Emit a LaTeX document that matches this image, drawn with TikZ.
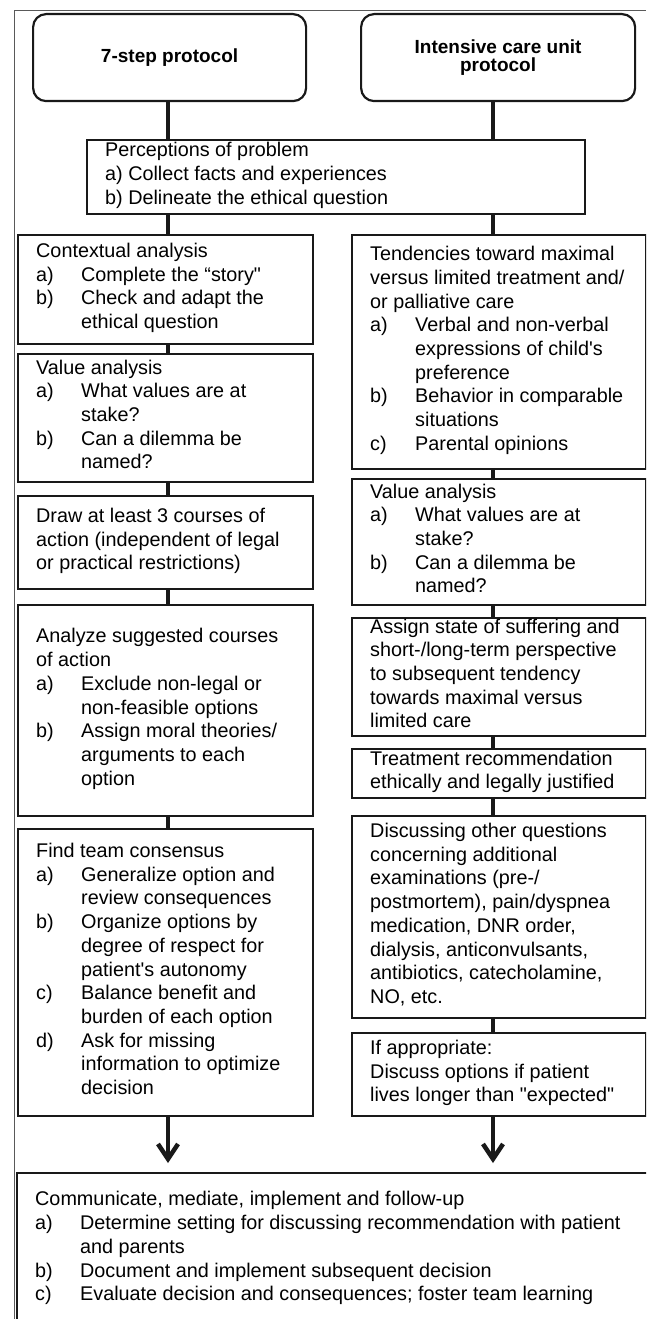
\documentclass[tikz,border=0pt]{standalone}
\usepackage{fontspec}
\setmainfont{Liberation Sans}
\usetikzlibrary{arrows.meta,calc}
\newcommand\ilab[1]{\makebox[45pt][l]{#1}}
\newcommand\hind{\hspace*{45pt}}
\newcommand\bodyfont{\fontsize{19.8}{23.7}\selectfont}
\newcommand\hdrfont{\fontsize{19}{17.5}\selectfont\bfseries}
\begin{document}
\begin{tikzpicture}[x=1pt,y=-1pt,
  box/.style={draw=black!90, line width=1.8pt, rectangle, inner sep=0pt, anchor=north west},
  hdr/.style={draw=black!90, line width=2.2pt, rounded corners=13pt, inner sep=0pt, anchor=north west, align=center, font=\hdrfont},
  txt/.style={anchor=west, align=left, inner sep=0pt, font=\bodyfont, execute at begin node=\strut, execute at end node=\strut},
  conn/.style={line width=4.5pt, draw=black!90},
  arr/.style={conn, -{Straight Barb[length=15pt,width=20pt]}, shorten >=9pt},
  frame/.style={line width=1pt, draw=black!65}]
\useasboundingbox (0,0) rectangle (646,1319);
\clip (0,0) rectangle (646,1319);
\draw[frame] (14,1319) -- (14,11) -- (646,11);
\coordinate (colL) at (168,0);
\coordinate (colR) at (493,0);
% headers
\node[hdr, minimum width=273pt, minimum height=87pt] (hdrA) at (32,13) {7-step protocol};
\node[hdr, minimum width=274pt, minimum height=87pt] (hdrB) at (360,13) {Intensive care unit\\protocol};
% perceptions
\node[box, minimum width=498pt, minimum height=74pt] (percept) at (86,139) {};
\node[txt] (perceptT) at ($(percept.west)+(19,0)$) {Perceptions of problem\\a) Collect facts and experiences\\b) Delineate the ethical question};
% left column
\node[box, minimum width=295pt, minimum height=109pt] (ctx) at (17,234) {};
\node[txt] (ctxT) at ($(ctx.west)+(19,0)$) {Contextual analysis\\\ilab{a)}Complete the “story\textquotedbl\\\ilab{b)}Check and adapt the\\\hind ethical question};
\node[box, minimum width=295pt, minimum height=128pt] (valL) at (17,353) {};
\node[txt] (valLT) at ($(valL.west)+(19,0)$) {Value analysis\\\ilab{a)}What values are at\\\hind stake?\\\ilab{b)}Can a dilemma be\\\hind named?};
\node[box, minimum width=295pt, minimum height=93pt] (drw) at (17,495) {};
\node[txt] (drwT) at ($(drw.west)+(19,0)$) {Draw at least 3 courses of\\action (independent of legal\\or practical restrictions)};
\node[box, minimum width=295pt, minimum height=211pt] (anal) at (17,604) {};
\node[txt] (analT) at ($(anal.west)+(19,0)$) {Analyze suggested courses\\of action\\\ilab{a)}Exclude non-legal or\\\hind non-feasible options\\\ilab{b)}Assign moral theories/\\\hind arguments to each\\\hind option};
\node[box, minimum width=295pt, minimum height=287pt] (find) at (17,828) {};
\node[txt] (findT) at ($(find.west)+(19,0)$) {Find team consensus\\\ilab{a)}Generalize option and\\\hind review consequences\\\ilab{b)}Organize options by\\\hind degree of respect for\\\hind patient\textquotesingle s autonomy\\\ilab{c)}Balance benefit and\\\hind burden of each option\\\ilab{d)}Ask for missing\\\hind information to optimize\\\hind decision};
% right column
\node[box, minimum width=294pt, minimum height=234pt] (tend) at (351,234) {};
\node[txt] (tendT) at ($(tend.west)+(19,0)$) {Tendencies toward maximal\\versus limited treatment and/\\or palliative care\\\ilab{a)}Verbal and non-verbal\\\hind expressions of child\textquotesingle s\\\hind preference\\\ilab{b)}Behavior in comparable\\\hind situations\\\ilab{c)}Parental opinions};
\node[box, minimum width=294pt, minimum height=126pt] (valR) at (351,478) {};
\node[txt] (valRT) at ($(valR.west)+(19,0)$) {Value analysis\\\ilab{a)}What values are at\\\hind stake?\\\ilab{b)}Can a dilemma be\\\hind named?};
\node[box, minimum width=294pt, minimum height=118pt] (assign) at (351,617) {};
\node[txt] (assignT) at ($(assign.west)+(19,0)$) {Assign state of suffering and\\short-/long-term perspective\\to subsequent tendency\\towards maximal versus\\limited care};
\node[box, minimum width=294pt, minimum height=49pt] (treat) at (351,748) {};
\node[txt] (treatT) at ($(treat.west)+(19,0)$) {Treatment recommendation\\ethically and legally justified};
\node[box, minimum width=294pt, minimum height=202pt] (disc) at (351,815) {};
\node[txt] (discT) at ($(disc.west)+(19,0)$) {Discussing other questions\\concerning additional\\examinations (pre-/\\postmortem), pain/dyspnea\\medication, DNR order,\\dialysis, anticonvulsants,\\antibiotics, catecholamine,\\NO, etc.};
\node[box, minimum width=294pt, minimum height=83pt] (ifap) at (351,1032) {};
\node[txt] (ifapT) at ($(ifap.west)+(19,0)$) {If appropriate:\\Discuss options if patient\\lives longer than \textquotedbl expected\textquotedbl};
% bottom
\node[box, minimum width=650pt, minimum height=170pt] (bottom) at (16,1172) {};
\node[txt, anchor=north west] (bottomT) at ($(bottom.north west)+(19,19.4)$) {Communicate, mediate, implement and follow-up\\\ilab{a)}Determine setting for discussing recommendation with patient\\\hind and parents\\\ilab{b)}Document and implement subsequent decision\\\ilab{c)}Evaluate decision and consequences; foster team learning};
% connectors
\draw[conn] (hdrA.south -| colL) -- (percept.north -| colL);
\draw[conn] (hdrB.south -| colR) -- (percept.north -| colR);
\draw[conn] (percept.south -| colL) -- (ctx.north -| colL);
\draw[conn] (percept.south -| colR) -- (tend.north -| colR);
\draw[conn] (ctx.south -| colL) -- (valL.north -| colL);
\draw[conn] (valL.south -| colL) -- (drw.north -| colL);
\draw[conn] (drw.south -| colL) -- (anal.north -| colL);
\draw[conn] (anal.south -| colL) -- (find.north -| colL);
\draw[conn] (tend.south -| colR) -- (valR.north -| colR);
\draw[conn] (valR.south -| colR) -- (assign.north -| colR);
\draw[conn] (assign.south -| colR) -- (treat.north -| colR);
\draw[conn] (treat.south -| colR) -- (disc.north -| colR);
\draw[conn] (disc.south -| colR) -- (ifap.north -| colR);
\draw[arr] (find.south -| colL) -- (bottom.north -| colL);
\draw[arr] (ifap.south -| colR) -- (bottom.north -| colR);
\end{tikzpicture}
\end{document}
